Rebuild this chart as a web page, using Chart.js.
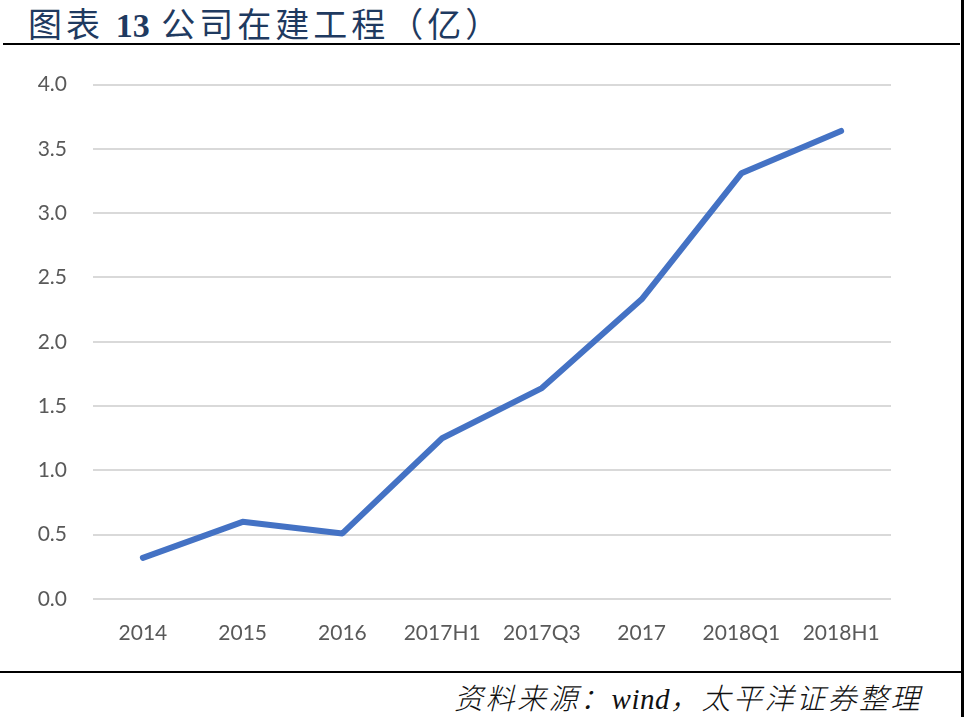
<!DOCTYPE html>
<html>
<head>
<meta charset="utf-8">
<script src="https://cdn.jsdelivr.net/npm/chart.js@4"></script>
<style>
  html, body { margin:0; padding:0; background:#fff; }
  body { width:964px; height:717px; position:relative; overflow:hidden; }
  #title { position:absolute; left:28px; top:6px; line-height:34px; font-size:34px; color:#1f3a60;
    font-family:"Noto Sans CJK SC", sans-serif; font-weight:400; letter-spacing:4px; white-space:nowrap; }
  #title .num { font-family:"Liberation Serif", serif; font-weight:bold; letter-spacing:0; }
  #tline { position:absolute; left:3px; top:43px; width:957px; height:2px; background:#000; }
  #bline { position:absolute; left:0px; top:671px; width:961px; height:2px; background:#000; }
  #rstrip { position:absolute; left:961px; top:0; width:3px; height:717px; background:#000; }
  #src { position:absolute; right:42px; top:680px; line-height:32px; font-size:29px; color:#111;
    font-family:"Noto Sans CJK SC", sans-serif; font-style:italic; font-weight:300; letter-spacing:2.5px; white-space:nowrap; }
  #src .lat { font-family:"Liberation Serif", serif; letter-spacing:0.5px; }
  #wrap { position:absolute; left:0; top:46px; width:961px; height:626px; }
</style>
</head>
<body>
<div id="title">图表 <span class="num">13</span> 公司在建工程（亿）</div>
<div id="tline"></div>
<div id="wrap"><canvas id="c"></canvas></div>
<div id="bline"></div>
<div id="rstrip"></div>
<div id="src">资料来源：<span class="lat">wind</span>，太平洋证券整理</div>
<script>
const categories = ['2014', '2015', '2016', '2017H1', '2017Q3', '2017', '2018Q1', '2018H1'];
const values = [0.32, 0.60, 0.51, 1.25, 1.64, 2.33, 3.31, 3.64];
const yMin = 0, yMax = 4, yStep = 0.5;

new Chart(document.getElementById('c'), {
  type: 'line',
  data: {
    labels: categories,
    datasets: [{
      data: values,
      borderColor: '#4472C4',
      borderWidth: 6,
      pointRadius: 0,
      pointHoverRadius: 0,
      borderCapStyle: 'round',
      borderJoinStyle: 'round',
      tension: 0,
      fill: false,
      clip: false
    }]
  },
  options: {
    responsive: true,
    maintainAspectRatio: false,
    animation: false,
    events: [],
    layout: { padding: { top: 36, right: 70, bottom: 0, left: 0 } },
    plugins: { legend: { display: false }, tooltip: { enabled: false } },
    scales: {
      x: {
        offset: true,
        grid: { display: false, drawTicks: false },
        border: { display: false },
        ticks: { color: '#595959', font: { family: 'Lato', size: 21 }, padding: 22, maxRotation: 0, autoSkip: false },
        afterFit: (s) => { s.height = 73; }
      },
      y: {
        min: yMin, max: yMax,
        grid: { color: '#d9d9d9', lineWidth: 2, drawTicks: false },
        border: { display: false },
        ticks: { stepSize: yStep, color: '#595959', font: { family: 'Lato', size: 21 }, padding: 26,
          callback: (v) => Number(v).toFixed(1) },
        afterFit: (s) => { s.width = 93; }
      }
    }
  }
});
</script>
</body>
</html>
